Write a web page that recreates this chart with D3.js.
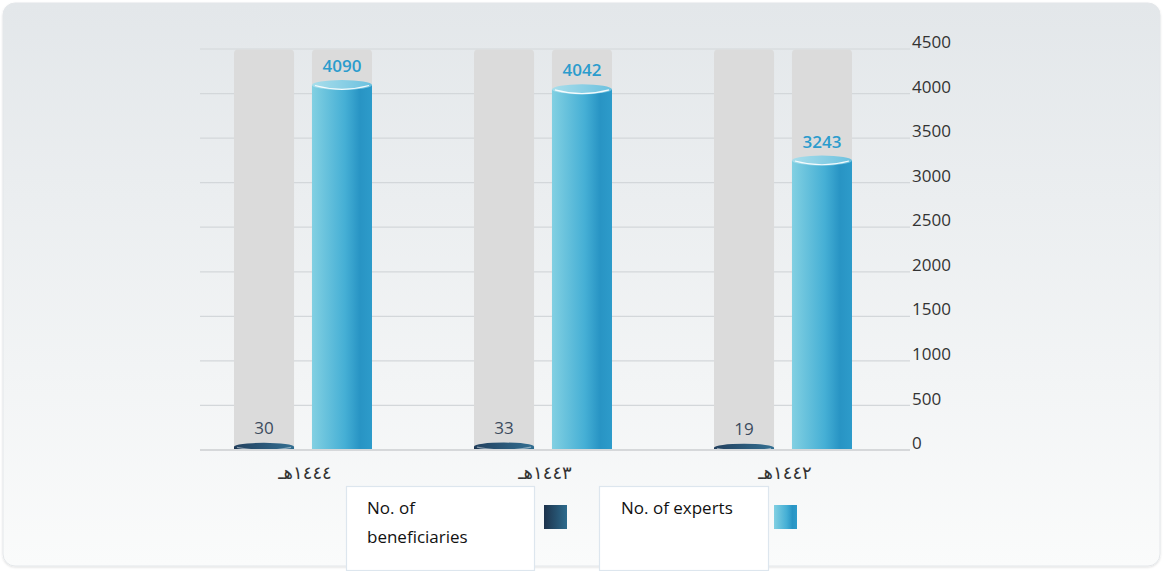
<!DOCTYPE html>
<html>
<head>
<meta charset="utf-8">
<script src="https://cdn.jsdelivr.net/npm/d3@7"></script>
<style>
  html, body { margin: 0; padding: 0; background: #ffffff; }
  svg { display: block; }
</style>
</head>
<body>
<svg id="chart" width="1164" height="571"></svg>
<script>
// Hijri years, two series per year
const categories = ["١٤٤٤هـ", "١٤٤٣هـ", "١٤٤٢هـ"];
const seriesNames = ["No. of beneficiaries", "No. of experts"];
const beneficiaries = [30, 33, 19];
const experts = [4090, 4042, 3243];
const yTicks = [0, 500, 1000, 1500, 2000, 2500, 3000, 3500, 4000, 4500];
const yMax = 4500;

const svg = d3.select("#chart");
const font = "'Open Sans', 'DejaVu Sans', sans-serif";

const defs = svg.append("defs");
const card = defs.append("linearGradient").attr("id", "cardFill")
  .attr("x1", 0).attr("y1", 0).attr("x2", 0).attr("y2", 1);
card.append("stop").attr("offset", "0%").attr("stop-color", "#e3e7ea");
card.append("stop").attr("offset", "100%").attr("stop-color", "#fafbfb");

function hGrad(id, stops) {
  const g = defs.append("linearGradient").attr("id", id)
    .attr("x1", 0).attr("y1", 0).attr("x2", 1).attr("y2", 0);
  stops.forEach(([o, c]) => g.append("stop").attr("offset", o).attr("stop-color", c));
}
hGrad("expBody", [["0%", "#82d0e2"], ["55%", "#45afd5"], ["80%", "#2894c4"], ["100%", "#2d9bca"]]);
hGrad("expTop", [["0%", "#a9deeb"], ["100%", "#6cc1df"]]);
hGrad("benBody", [["0%", "#1d334c"], ["100%", "#2d6b8d"]]);
hGrad("benTop", [["0%", "#22405e"], ["100%", "#336f92"]]);

const shadow = defs.append("filter").attr("id", "cardShadow")
  .attr("x", "-2%").attr("y", "-2%").attr("width", "104%").attr("height", "104%");
shadow.append("feDropShadow").attr("dx", 0).attr("dy", 1).attr("stdDeviation", 1.2)
  .attr("flood-color", "#000").attr("flood-opacity", 0.12);

// card background
svg.append("rect").attr("x", 3).attr("y", 3).attr("width", 1157).attr("height", 563)
  .attr("rx", 12).attr("fill", "url(#cardFill)").attr("stroke", "#e4e7ea")
  .attr("filter", "url(#cardShadow)");

// scales
const y = d3.scaleLinear().domain([0, yMax]).range([449.5, 48.5]);
const x0 = d3.scaleBand().domain(categories).range([183, 903]);
const x1 = d3.scaleBand().domain(seriesNames).range([0, 138]).paddingInner(0.23);
const pairOffset = x0.bandwidth() / 2 - 69;

// bars are cut off at the baseline
defs.append("clipPath").attr("id", "plotClip")
  .append("rect").attr("x", 0).attr("y", 0).attr("width", 1164).attr("height", y(0) - 0.5);

// grid lines + right-hand tick labels
const axis = d3.axisRight(y).tickValues(yTicks).tickSize(710).tickPadding(2)
  .tickFormat(d3.format("d"));
const gAxis = svg.append("g").attr("transform", "translate(200,0)").call(axis);
gAxis.select(".domain").remove();
gAxis.selectAll(".tick line").attr("stroke", "#d3d7da").attr("stroke-width", 1.2);
gAxis.selectAll(".tick text")
  .attr("font-family", font).attr("font-size", 17).attr("fill", "#333")
  .attr("dy", "-0.05em");
gAxis.selectAll(".tick").filter(d => d === 0).select("line")
  .attr("stroke", "#d6d8da").attr("stroke-width", 2);

const rows = categories.map((c, i) => ({ cat: c, values: [beneficiaries[i], experts[i]] }));

const groups = svg.append("g").selectAll("g").data(rows).join("g")
  .attr("transform", d => `translate(${x0(d.cat) + pairOffset},0)`);

const bw = x1.bandwidth();

// grey track behind each bar
groups.selectAll("path.track").data(d => seriesNames.map((s, k) => ({ s, v: d.values[k] })))
  .join("path").attr("class", "track")
  .attr("d", d => {
    const x = x1(d.s), top = y(yMax) + 1, bot = y(0) - 0.5, r = 4;
    return `M${x},${bot}V${top + r}Q${x},${top} ${x + r},${top}H${x + bw - r}Q${x + bw},${top} ${x + bw},${top + r}V${bot}Z`;
  })
  .attr("fill", "#dbdbdb");

// cylinders
const bars = groups.selectAll("g.bar").data(d => seriesNames.map((s, k) => ({ s, k, v: d.values[k] })))
  .join("g").attr("class", "bar");

bars.each(function (d) {
  const g = d3.select(this);
  const x = x1(d.s), cx = x + bw / 2;
  const top = y(d.v), bot = y(0);
  const ry = d.k === 0 ? 4 : 5;
  const body = d.k === 0 ? "url(#benBody)" : "url(#expBody)";
  const cap = d.k === 0 ? "url(#benTop)" : "url(#expTop)";
  const shape = g.append("g").attr("clip-path", "url(#plotClip)");
  shape.append("rect").attr("x", x).attr("y", top).attr("width", bw).attr("height", Math.max(0, bot - top))
    .attr("fill", body);
  shape.append("ellipse").attr("cx", cx).attr("cy", top).attr("rx", bw / 2).attr("ry", ry).attr("fill", cap);
  // rim highlight
  shape.append("path")
    .attr("d", `M${x + 3},${top + 0.5}Q${cx},${top + ry * 1.6} ${x + bw - 3},${top + 0.5}`)
    .attr("fill", "none").attr("stroke", "#ffffff").attr("stroke-opacity", d.k === 0 ? 0.45 : 0.9)
    .attr("stroke-width", 1.2);
  g.append("text").attr("x", cx).attr("y", top - 13)
    .attr("text-anchor", "middle").attr("font-family", font).attr("font-size", 17)
    .attr("font-weight", d.k === 0 ? 400 : 600)
    .attr("fill", d.k === 0 ? "#3b4b5e" : "#2b9ccd")
    .text(d.v);
});

// category labels
svg.append("g").selectAll("text").data(categories).join("text")
  .attr("x", d => x0(d) + x0.bandwidth() / 2 + 2)
  .attr("y", 479)
  .attr("text-anchor", "middle").attr("font-family", "'DejaVu Sans', sans-serif").attr("font-size", 18)
  .attr("fill", "#333").text(d => d);

// legend
const legend = [
  { box: [346, 486, 188, 84], lines: ["No. of", "beneficiaries"], tx: 367, sw: 544, fill: "url(#benBody)" },
  { box: [599, 486, 169, 84], lines: ["No. of experts"], tx: 621, sw: 774, fill: "url(#expBody)" }
];
const lg = svg.append("g").selectAll("g").data(legend).join("g");
lg.append("rect").attr("x", d => d.box[0] + 0.5).attr("y", d => d.box[1] + 0.5)
  .attr("width", d => d.box[2]).attr("height", d => d.box[3])
  .attr("fill", "#ffffff").attr("stroke", "#dde6ee").attr("stroke-width", 1.2);
lg.append("rect").attr("x", d => d.sw).attr("y", 505).attr("width", 23).attr("height", 24)
  .attr("fill", d => d.fill);
lg.each(function (d) {
  const t = d3.select(this).append("text").attr("font-family", font).attr("font-size", 17)
    .attr("fill", "#111");
  d.lines.forEach((l, i) => t.append("tspan").attr("x", d.tx).attr("y", 514 + i * 29).text(l));
});
</script>
</body>
</html>
